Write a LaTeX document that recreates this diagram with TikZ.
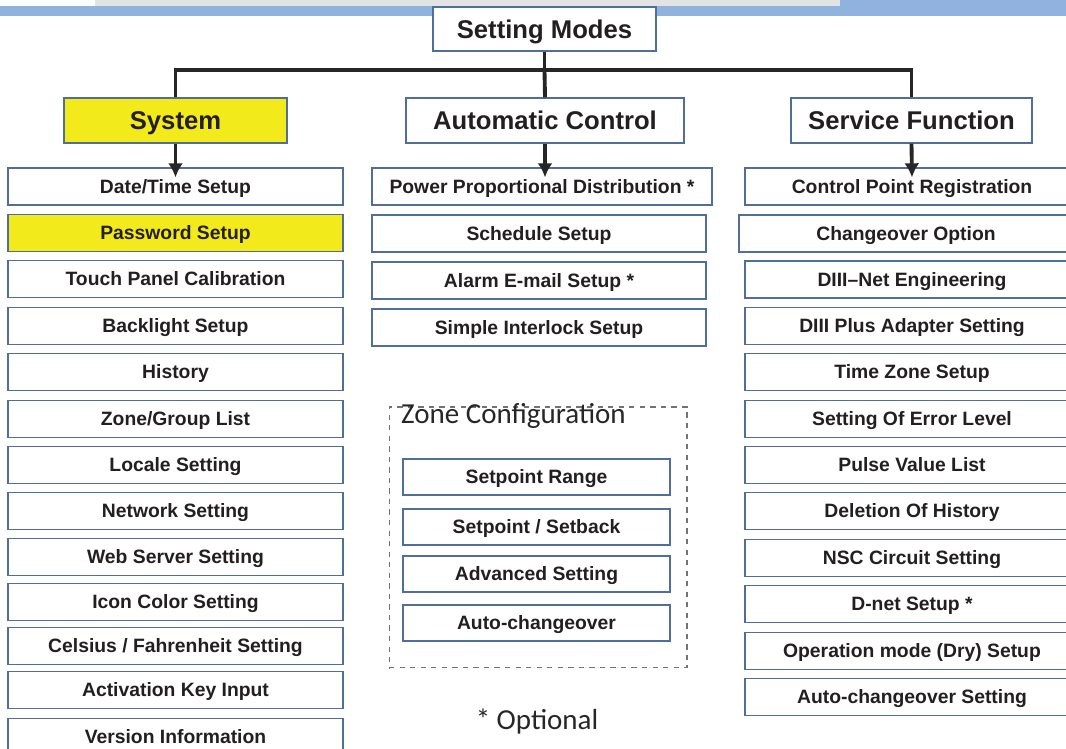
\documentclass[tikz,border=0pt]{standalone}
\usepackage{fontspec}
\setmainfont{Liberation Sans}
\newfontfamily\calibri{Carlito}
\usetikzlibrary{arrows.meta}

\definecolor{boxline}{RGB}{80,110,155}
\definecolor{sysyellow}{RGB}{242,234,26}
\definecolor{bandblue}{RGB}{143,179,222}
\definecolor{txt}{RGB}{35,31,32}

\tikzset{
  head/.style={draw=boxline, line width=0.7pt, fill=white, inner sep=0pt,
    text height=12pt, text depth=1.55pt,
    minimum height=0.9cm, text=txt, font=\fontsize{14.6}{16}\selectfont\bfseries},
  item/.style={draw=boxline, line width=0.7pt, fill=white, inner sep=0pt,
    text height=9.5pt, text depth=1.6pt,
    minimum width=6.7cm, minimum height=0.74cm, text=txt,
    font=\fontsize{11}{13}\selectfont\bfseries},
  zitem/.style={item, minimum width=5.34cm, minimum height=0.72cm},
  bus/.style={line width=2.2pt, black!85},
  down/.style={bus, >={Latex[length=8pt,width=8.5pt]}, ->},
  note/.style={text=black!85, font=\calibri\fontsize{16.5}{18}\selectfont}
}

\begin{document}
\begin{tikzpicture}[x=0.02cm, y=-0.02cm]
\useasboundingbox (0,0) rectangle (1066,749);
\clip (0,0) rectangle (1066,749);

% top band
\fill[gray!22] (95,0) rectangle (840,7);
\fill[bandblue] (0,6) rectangle (1066,16);
\fill[bandblue] (840,0) rectangle (1066,6);

% headers
\node[head, minimum width=4.46cm, minimum height=0.88cm] (modes) at (544.5,29) {Setting Modes};
\node[head, fill=sysyellow, minimum width=4.46cm] (system) at (175.5,120.5) {System};
\node[head, minimum width=5.56cm] (auto) at (545,120.5) {Automatic Control};
\node[head, minimum width=4.82cm] (service) at (911.5,120.5) {Service Function};

% system
\node[item] (date) at (175.5,186.5) {Date/Time Setup};
\node[item, fill=sysyellow] (password) at (175.5,233) {Password Setup};
\node[item] (touch) at (175.5,279) {Touch Panel Calibration};
\node[item] (backlight) at (175.5,326) {Backlight Setup};
\node[item] (history) at (175.5,372) {History};
\node[item] (zonelist) at (175.5,419) {Zone/Group List};
\node[item] (locale) at (175.5,465) {Locale Setting};
\node[item] (network) at (175.5,511) {Network Setting};
\node[item] (web) at (175.5,557) {Web Server Setting};
\node[item] (icon) at (175.5,602) {Icon Color Setting};
\node[item] (celsius) at (175.5,646) {Celsius / Fahrenheit Setting};
\node[item] (activation) at (175.5,690) {Activation Key Input};
\node[item] (version) at (175.5,737) {Version Information};

% automatic control
\node[item, minimum width=6.8cm] (power) at (542,186.5) {Power Proportional Distribution *};
\node[item, minimum width=6.68cm] (schedule) at (539,233.5) {Schedule Setup};
\node[item, minimum width=6.68cm] (alarm) at (539,280.5) {Alarm E-mail Setup *};
\node[item, minimum width=6.68cm] (interlock) at (539,327.5) {Simple Interlock Setup};

% zone configuration
\node[draw=black!55, dashed, line width=0.6pt, minimum width=5.96cm, minimum height=5.22cm] (zone) at (538,537.5) {};
\node[note, anchor=west] (zonetitle) at (395,416) {Zone Configuration};
\node[zitem] (range) at (536.5,477) {Setpoint Range};
\node[zitem] (setback) at (536.5,527) {Setpoint / Setback};
\node[zitem] (advanced) at (536.5,574) {Advanced Setting};
\node[zitem] (autochange) at (536.5,623) {Auto-changeover};

\node[note] (optional) at (537,722) {* Optional};

% service function
\node[item, minimum width=6.68cm] (registration) at (912,186.5) {Control Point Registration};
\node[item, minimum width=6.68cm] (changeover) at (906,233.5) {Changeover Option};
\node[item, minimum width=6.68cm] (dnet) at (912,279.5) {DIII–Net Engineering};
\node[item, minimum width=6.68cm] (adapter) at (912,326) {DIII Plus Adapter Setting};
\node[item, minimum width=6.68cm] (timezone) at (912,372) {Time Zone Setup};
\node[item, minimum width=6.68cm] (errorlevel) at (912,419) {Setting Of Error Level};
\node[item, minimum width=6.68cm] (pulse) at (912,465) {Pulse Value List};
\node[item, minimum width=6.68cm] (deletion) at (912,511) {Deletion Of History};
\node[item, minimum width=6.68cm] (nsc) at (912,558) {NSC Circuit Setting};
\node[item, minimum width=6.68cm] (dnetsetup) at (912,604) {D-net Setup *};
\node[item, minimum width=6.68cm] (drymode) at (912,651) {Operation mode (Dry) Setup};
\node[item, minimum width=6.68cm] (autosetting) at (912,697) {Auto-changeover Setting};

% connectors
\coordinate (busmid) at (544.5,70);
\draw[bus] (modes.south) -- (modes.south |- busmid);
\draw[bus] (busmid) -- (auto.north);
\draw[bus] (system.north) |- (busmid) -| (service.north);

\draw[down] (system.south) -- ([yshift=-0.2cm]date.north);
\draw[down] (auto.south) -- ([yshift=-0.2cm]auto.south |- power.north);
\draw[down] (service.south) -- ([yshift=-0.2cm]registration.north);

\end{tikzpicture}
\end{document}
